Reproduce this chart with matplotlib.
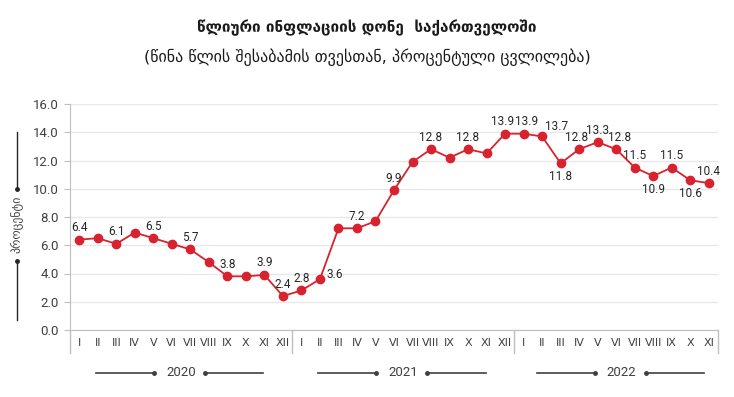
import matplotlib
matplotlib.use("Agg")
import matplotlib.pyplot as plt
import matplotlib.transforms as mtransforms

plt.rcParams['font.family'] = ['DejaVu Sans']

months = ['I', 'II', 'III', 'IV', 'V', 'VI', 'VII', 'VIII', 'IX', 'X', 'XI', 'XII']
years = ['2020', '2021', '2022']
infl_2020 = [6.4, 6.5, 6.1, 6.9, 6.5, 6.1, 5.7, 4.8, 3.8, 3.8, 3.9, 2.4]
infl_2021 = [2.8, 3.6, 7.2, 7.2, 7.7, 9.9, 11.9, 12.8, 12.2, 12.8, 12.5, 13.9]
infl_2022 = [13.9, 13.7, 11.8, 12.8, 13.3, 12.8, 11.5, 10.9, 11.5, 10.6, 10.4]

# which points get a value label, and where it sits
labels_2020 = {0: 'up', 2: 'up', 4: 'up', 6: 'up', 8: 'up', 10: 'up', 11: 'up'}
labels_2021 = {0: 'up', 1: 'right', 3: 'up', 5: 'up', 7: 'up', 9: 'up', 11: 'upleft'}
labels_2022 = {0: 'upright', 1: 'rightup', 2: 'down', 3: 'upleft', 4: 'up', 5: 'upright', 6: 'up',
               7: 'down', 8: 'up', 9: 'down', 10: 'up'}

values = infl_2020 + infl_2021 + infl_2022
ticklabels = months + months + months[:len(infl_2022)]
x = list(range(len(values)))

all_labels = {}
for off, d in [(0, labels_2020), (12, labels_2021), (24, labels_2022)]:
    for k, v in d.items():
        all_labels[off + k] = v

red = '#d7232f'
grey = '#404040'
numfont = ['Roboto', 'DejaVu Sans']

fig = plt.figure(figsize=(7.34, 3.97), dpi=100)
ax = fig.add_axes([70/734, 1 - 330/397, 648/734, 226/397])

ax.plot(x, values, color=red, lw=1.3, marker='o', ms=6, zorder=3)

ax.set_xlim(-0.5, len(values) - 0.5)
ax.set_ylim(0, 16)
ax.set_yticks([0, 2, 4, 6, 8, 10, 12, 14, 16])
ax.set_yticklabels(['%.1f' % t for t in ax.get_yticks()], fontsize=9.5, color=grey, family=numfont)
ax.set_xticks(x)
ax.set_xticklabels(ticklabels, fontsize=8, color=grey)
ax.tick_params(axis='x', length=0, pad=6)
ax.tick_params(axis='y', length=4, color='#bfbfbf', pad=4)
ax.grid(axis='y', color='#e8e8e8', lw=1)
ax.set_axisbelow(True)
for s in ['top', 'right']:
    ax.spines[s].set_visible(False)
ax.spines['left'].set_color('#bfbfbf')
ax.spines['bottom'].set_color('#bfbfbf')

offsets = {'up': (0, 12, 'center'), 'down': (0, -13, 'center'),
           'upleft': (-3, 12, 'center'), 'upright': (3, 12, 'center'),
           'right': (7, 5, 'left'), 'rightup': (3, 10, 'left')}
for i, pos in all_labels.items():
    dx, dy, ha = offsets[pos]
    ax.annotate('%.1f' % values[i], (x[i], values[i]), xytext=(dx, dy),
                textcoords='offset pixels', ha=ha, va='center', family=numfont,
                fontsize=8.5, color='#262626', annotation_clip=False)

# year separators and year captions below the axis
trans = mtransforms.blended_transform_factory(ax.transData, ax.transAxes)
for b in [-0.5, 11.5, 23.5, len(values) - 0.5]:
    ax.plot([b, b], [0, -0.1], color='#bfbfbf', lw=1, transform=trans, clip_on=False)

year_centers = [5.5, 17.5, 29.3]
for yr, c in zip(years, year_centers):
    ax.text(c, -0.19, yr, transform=trans, ha='center', va='center', fontsize=9.5,
            color=grey, family=numfont)
    ax.plot([c - 4.6, c - 1.45], [-0.19, -0.19], color=grey, lw=1.2, transform=trans, clip_on=False)
    ax.plot([c + 1.3, c + 4.45], [-0.19, -0.19], color=grey, lw=1.2, transform=trans, clip_on=False)
    ax.plot([c - 1.45, c + 1.3], [-0.19, -0.19], 'o', color=grey, ms=2.5, transform=trans, clip_on=False)

# y axis caption with arrows
fig.text(17/734, 1 - 224/397, 'პროცენტი', rotation=90, ha='center', va='center',
         fontsize=8.5, color=grey)
fig.add_artist(plt.Line2D([17/734, 17/734], [1 - 132/397, 1 - 189/397], color='#262626', lw=1))
fig.add_artist(plt.Line2D([17/734, 17/734], [1 - 261/397, 1 - 320/397], color='#262626', lw=1))
fig.add_artist(plt.Line2D([17/734, 17/734], [1 - 189/397, 1 - 261/397], color='#262626',
                          lw=0, marker='o', ms=2.5))

fig.text(0.5, 1 - 28/397, 'წლიური ინფლაციის დონე  საქართველოში', ha='center', va='center',
         fontsize=11, fontweight='bold', color='#1a1a1a')
fig.text(0.5, 1 - 57/397, '(წინა წლის შესაბამის თვესთან, პროცენტული ცვლილება)', ha='center',
         va='center', fontsize=11.5, color='#1a1a1a')

fig.savefig('out.png', dpi=100)
